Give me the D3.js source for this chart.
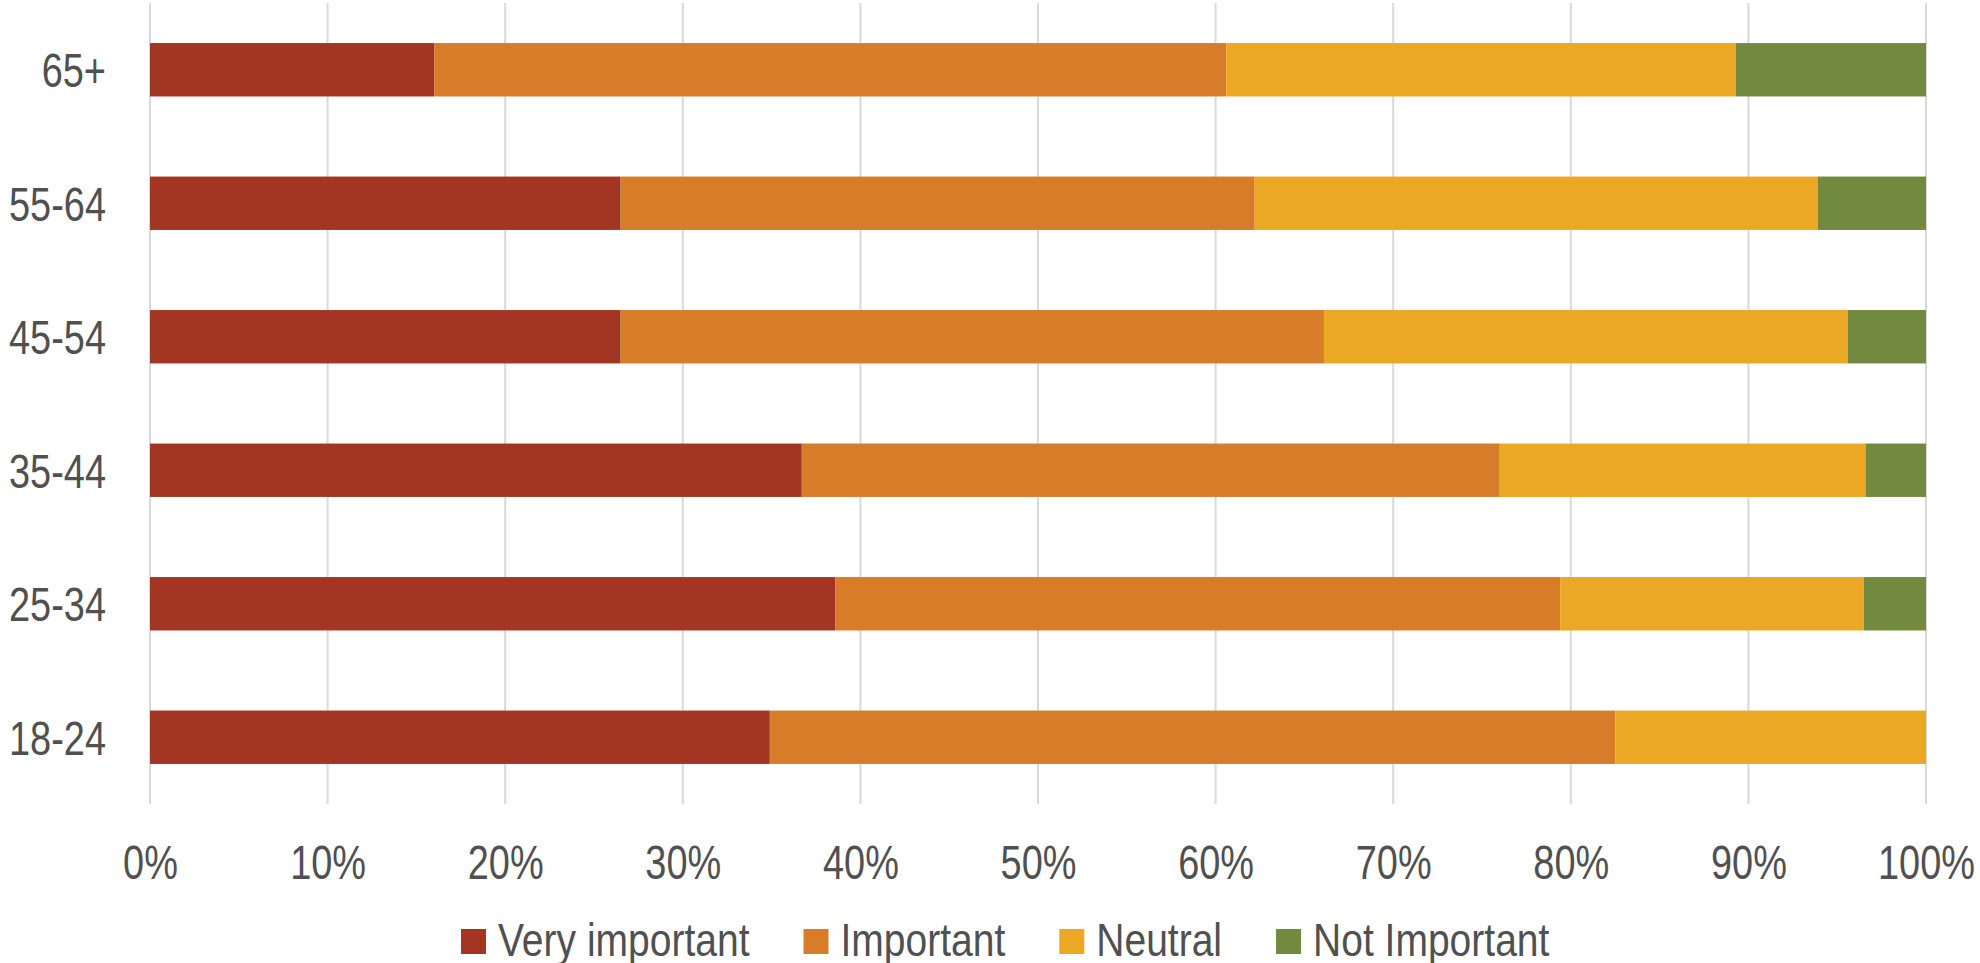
<!DOCTYPE html>
<html>
<head>
<meta charset="utf-8">
<script src="https://cdn.jsdelivr.net/npm/d3@7"></script>
<style>
  html, body { margin: 0; padding: 0; background: #fff; }
  svg text { font-family: "Liberation Sans", Arial, sans-serif; fill: #505050; }
</style>
</head>
<body>
<svg id="chart" width="1980" height="963"></svg>
<script>
const categories = ["65+", "55-64", "45-54", "35-44", "25-34", "18-24"];
const seriesNames = ["Very important", "Important", "Neutral", "Not Important"];
const veryImportant = [16.0, 26.5, 26.5, 36.7, 38.6, 34.9];
const important     = [44.6, 35.7, 39.6, 39.3, 40.8, 47.6];
const neutral       = [28.7, 31.7, 29.5, 20.6, 17.1, 17.5];
const notImportant  = [10.7, 6.1, 4.4, 3.4, 3.5, 0.0];
const colors = ["#A23623", "#D77C29", "#EAA824", "#718A40"];
const tickValues = [0, 10, 20, 30, 40, 50, 60, 70, 80, 90, 100];

const rows = categories.map((c, i) => ({
  cat: c,
  "Very important": veryImportant[i],
  "Important": important[i],
  "Neutral": neutral[i],
  "Not Important": notImportant[i]
}));

const svg = d3.select("#chart");
const mLeft = 150, mRight = 1926, mTop = 3, mBottom = 804;
const narrow = 0.79;
const legendNarrow = 0.83;

const x = d3.scaleLinear().domain([0, 100]).range([mLeft, mRight]);
const y = d3.scaleBand().domain(categories).range([mTop, mBottom]).paddingInner(0.6).paddingOuter(0.3);

// gridlines
svg.append("g").selectAll("line").data(tickValues).join("line")
  .attr("x1", d => x(d)).attr("x2", d => x(d))
  .attr("y1", mTop).attr("y2", mBottom)
  .attr("stroke", "#D9D9D9").attr("stroke-width", 2);

// stacked bars
const stack = d3.stack().keys(seriesNames);
const stacked = stack(rows);
svg.append("g").selectAll("g").data(stacked).join("g")
  .attr("fill", (d, i) => colors[i])
  .selectAll("rect").data(d => d).join("rect")
  .attr("x", d => x(d[0]))
  .attr("width", d => Math.max(0, x(d[1]) - x(d[0])))
  .attr("y", d => y(d.data.cat))
  .attr("height", y.bandwidth());

// x axis labels
const xAxis = d3.axisBottom(x).tickValues(tickValues).tickFormat(d => d + "%").tickSize(0).tickPadding(0);
const gx = svg.append("g").attr("transform", `translate(0, ${mBottom})`).call(xAxis);
gx.select(".domain").remove();
gx.selectAll("text").attr("font-size", 48).attr("dy", null).attr("y", 0)
  .attr("transform", `translate(0,75) scale(${narrow},1)`)
  .attr("font-family", null).attr("fill", "#505050");

// y axis labels
const yAxis = d3.axisLeft(y).tickSize(0).tickPadding(0);
const gy = svg.append("g").attr("transform", `translate(106, 0)`).call(yAxis);
gy.select(".domain").remove();
gy.selectAll("text").attr("font-size", 48).attr("dy", "0.36em").attr("x", 0)
  .attr("transform", `scale(${narrow},1)`)
  .attr("font-family", null).attr("fill", "#505050");

// legend
const legend = svg.append("g");
let lx = 461;
seriesNames.forEach((name, i) => {
  const g = legend.append("g").attr("transform", `translate(${lx}, 0)`);
  g.append("rect").attr("x", 0).attr("y", 929).attr("width", 25).attr("height", 25).attr("fill", colors[i]);
  const t = g.append("text").attr("x", 0).attr("y", 0).attr("font-size", 47)
    .attr("transform", `translate(37,956) scale(${legendNarrow},1)`).text(name);
  const w = t.node().getComputedTextLength() * legendNarrow;
  lx += 37 + w + 54;
});
</script>
</body>
</html>
